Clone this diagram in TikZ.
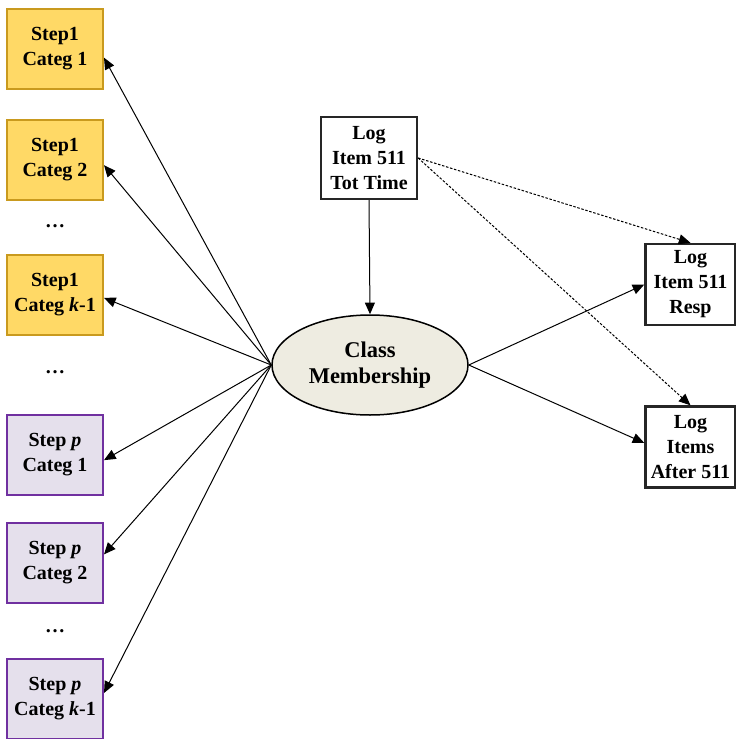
\documentclass[tikz,border=0pt]{standalone}
\usepackage{fontspec}
\setmainfont{Liberation Serif}
\usepackage{tikz}
\usetikzlibrary{shapes,arrows.meta,positioning}
\definecolor{stepgold}{HTML}{FFD966}
\definecolor{stepgoldline}{HTML}{C99A1E}
\definecolor{steplilac}{HTML}{E5E0EC}
\definecolor{steplilacline}{HTML}{7030A0}
\definecolor{classtan}{HTML}{EEECE1}
\tikzset{box font/.style={font=\fontsize{12}{15}\selectfont\bfseries},}
\tikzset{gold rectangle/.style={rectangle,fill=stepgold,draw=stepgoldline,line width=1.2pt,minimum width=57.6pt,minimum height=48pt,inner sep=0pt,align=center,box font},}
\tikzset{lilac rectangle/.style={rectangle,fill=steplilac,draw=steplilacline,line width=1.2pt,minimum width=57.6pt,minimum height=48pt,inner sep=0pt,align=center,box font},}
\tikzset{log rectangle/.style={rectangle,fill=white,draw=black!85,line width=1.4pt,minimum width=54pt,minimum height=48.6pt,inner sep=0pt,align=center,box font},}
\tikzset{class ellipse/.style={ellipse,fill=classtan,draw,line width=0.9pt,minimum width=117.6pt,minimum height=60pt,inner sep=0pt,align=center,font=\fontsize{13.5}{15.6}\selectfont\bfseries},}
\tikzset{link/.style={-{Triangle[length=7pt,width=6pt]},line width=0.6pt},}
\tikzset{dash link/.style={link,dash pattern=on 1.5pt off 1pt},}

\begin{document}
\begin{tikzpicture}[x=0.6pt,y=-0.6pt]
    \useasboundingbox (0,0) rectangle (736,739);
    \node[class ellipse] (c) at (370,365) {Class\\Membership};
    \node[log rectangle, minimum width=57.6pt, minimum height=49.2pt] (t) at (369,158) {Log\\Item 511\\Tot Time};
    \node[log rectangle] (r1) at (690.5,284.5) {Log\\Item 511\\Resp};
    \node[log rectangle] (r2) at (690.5,447) {Log\\Items\\After 511};

    \node[gold rectangle] (s1) at (55,49) {Step1\\Categ 1};
    \node[gold rectangle] (s2) at (55,160) {Step1\\Categ 2};
    \node[box font] (d1) at (55,226) {\dots};
    \node[gold rectangle] (s3) at (55,294.5) {Step1\\Categ \textit{k}-1};
    \node[box font] (d2) at (55,372) {\dots};
    \node[lilac rectangle] (s4) at (55,455) {Step \textit{p}\\Categ 1};
    \node[lilac rectangle] (s5) at (55,563) {Step \textit{p}\\Categ 2};
    \node[box font] (d3) at (55,631) {\dots};
    \node[lilac rectangle] (s6) at (55,699) {Step \textit{p}\\Categ \textit{k}-1};

    \path[link] (c.west) edge (s1.-10);
    \path[link] (c.west) edge (s2.-6);
    \path[link] (c.west) edge (s3.-4);
    \path[link] (c.west) edge (s4.-6);
    \path[link] (c.west) edge (s5.10);
    \path[link] (c.west) edge (s6.7);

    \path[link] (t.south) edge (c.north);
    \path[link] (c.east) edge (r1.west);
    \path[link] (c.east) edge (r2.175);
    \path[dash link] (t.east) edge (r1.north);
    \path[dash link] (t.east) edge (r2.north);
\end{tikzpicture}
\end{document}
